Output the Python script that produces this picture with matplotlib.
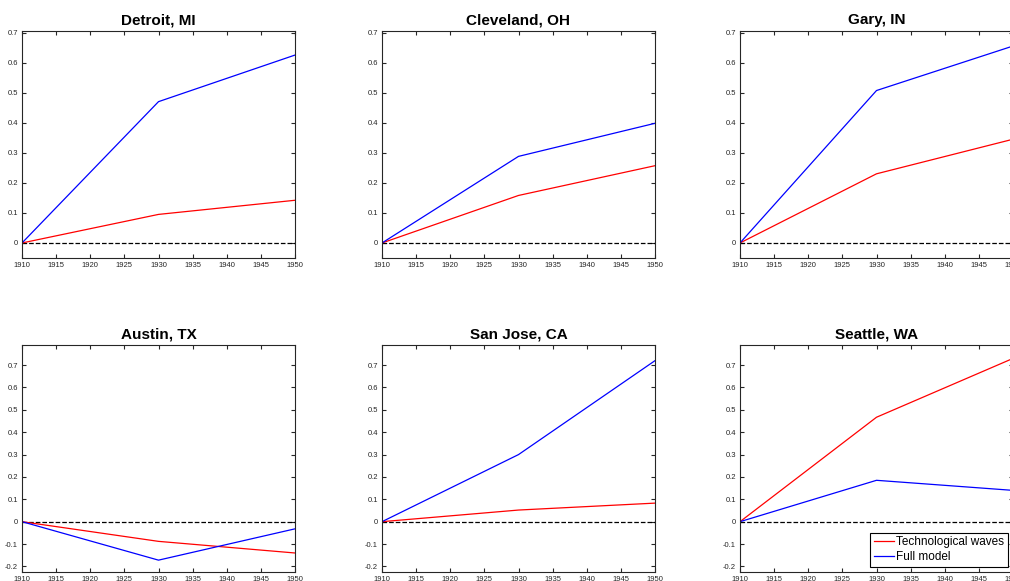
import matplotlib
matplotlib.use("Agg")
import matplotlib.pyplot as plt

plt.rcParams["font.family"] = ["Liberation Sans", "DejaVu Sans"]

# ======================
# Data
# ======================
years = [1910, 1930, 1950]

cities = ["Detroit, MI", "Cleveland, OH", "Gary, IN",
          "Austin, TX", "San Jose, CA", "Seattle, WA"]

tech_waves = [
    [0, 0.095, 0.142],
    [0, 0.158, 0.257],
    [0, 0.230, 0.345],
    [0, -0.088, -0.140],
    [0, 0.052, 0.083],
    [0, 0.467, 0.730],
]

full_model = [
    [0, 0.470, 0.625],
    [0, 0.288, 0.398],
    [0, 0.507, 0.655],
    [0, -0.172, -0.032],
    [0, 0.300, 0.720],
    [0, 0.185, 0.140],
]

xticks = list(range(1910, 1951, 5))
yticks_top = [0, 0.1, 0.2, 0.3, 0.4, 0.5, 0.6, 0.7]
yticks_bot = [-0.2, -0.1, 0, 0.1, 0.2, 0.3, 0.4, 0.5, 0.6, 0.7]

# ======================
# Figure layout (pixel positions of the axes boxes)
# ======================
W, H = 1010, 581
fig = plt.figure(figsize=(W / 100, H / 100), dpi=100)

lefts = [22, 382, 740]
ax_w, ax_h = 273, 227
tops = [31, 345]

axc = "#262626"

for i, city in enumerate(cities):
    row, col = divmod(i, 3)
    left = lefts[col]
    top = tops[row]
    ax = fig.add_axes([left / W, (H - top - ax_h) / H, ax_w / W, ax_h / H])

    ax.plot(years, [0, 0, 0], "--", color="black", linewidth=0.9)
    ax.plot(years, tech_waves[i], color="red", linewidth=0.9,
            label="Technological waves")
    ax.plot(years, full_model[i], color="blue", linewidth=0.9,
            label="Full model")

    ax.set_xlim(1910, 1950)
    ax.set_xticks(xticks)
    if row == 0:
        ax.set_ylim(-0.05, 0.705)
        ax.set_yticks(yticks_top)
    else:
        ax.set_ylim(-0.225, 0.79)
        ax.set_yticks(yticks_bot)
    ax.set_yticklabels([f"{v:g}" for v in ax.get_yticks()])

    ax.tick_params(direction="in", top=True, right=True, length=3,
                   width=0.8, labelsize=5.5, colors=axc, pad=3)
    for s in ax.spines.values():
        s.set_color(axc)
        s.set_linewidth(0.8)

    ax.set_title(city, fontsize=11, fontweight="bold", pad=5)

    if city == "Seattle, WA":
        leg = ax.legend(loc="lower right", fontsize=8.5, handlelength=1.7,
                        handletextpad=0.2, borderpad=0.3, labelspacing=0.25,
                        fancybox=False, framealpha=1, borderaxespad=0.45)
        leg.get_frame().set_edgecolor("black")
        leg.get_frame().set_linewidth(0.8)

plt.savefig("out.png", dpi=100)
